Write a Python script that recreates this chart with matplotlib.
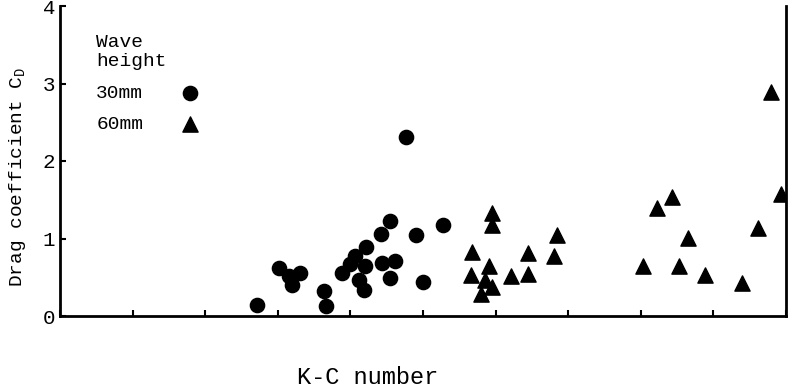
import matplotlib
matplotlib.use("Agg")
import matplotlib.pyplot as plt

plt.rcParams["font.family"] = ["Liberation Mono", "DejaVu Sans Mono"]

# Wave height 30 mm (circles)
kc_30 = [2.71, 3.02, 3.15, 3.31, 3.20, 3.64, 3.66, 3.88, 3.99, 4.07, 4.21, 4.20,
         4.12, 4.19, 4.42, 4.55, 4.44, 4.61, 4.55, 4.77, 4.90, 5.00, 5.28]
cd_30 = [0.14, 0.62, 0.52, 0.56, 0.40, 0.32, 0.13, 0.55, 0.67, 0.78, 0.89, 0.65,
         0.46, 0.33, 1.06, 1.23, 0.69, 0.71, 0.49, 2.31, 1.05, 0.44, 1.17]

# Wave height 60 mm (triangles)
kc_60 = [5.95, 5.95, 5.68, 5.66, 5.91, 5.86, 5.95, 5.80, 6.21, 6.44, 6.45, 6.84,
         6.80, 9.79, 8.43, 8.23, 8.65, 8.03, 8.52, 8.89, 9.40, 9.62, 9.93]
cd_60 = [1.33, 1.17, 0.82, 0.53, 0.65, 0.47, 0.37, 0.29, 0.52, 0.54, 0.81, 1.05,
         0.77, 2.89, 1.54, 1.40, 1.01, 0.64, 0.65, 0.53, 0.42, 1.14, 1.58]

x_ticks = list(range(0, 11))
y_ticks = [0, 1, 2, 3, 4]
y_ticklabels = ["0", "1", "2", "3", "4"]

fig = plt.figure(figsize=(7.9, 3.92), dpi=100)
ax = fig.add_axes([60 / 790, 76 / 392, 726 / 790, 310 / 392])

ax.scatter(kc_30, cd_30, s=105, marker="o", color="black", label="30mm", zorder=3)
ax.scatter(kc_60, cd_60, s=120, marker="^", color="black", label="60mm", zorder=3)

ax.set_xlim(0, 10)
ax.set_ylim(0, 4)
ax.set_xticks(x_ticks)
ax.set_xticklabels([])
ax.set_yticks(y_ticks)
ax.set_yticklabels(y_ticklabels, fontsize=15)
ax.tick_params(direction="in", length=4, width=1.5, colors="black")

for side in ("left", "bottom", "right"):
    ax.spines[side].set_linewidth(2)
ax.spines["top"].set_visible(False)

ax.set_ylabel("Drag coefficient C$_{\\mathregular{D}}$", fontsize=14)
ax.yaxis.set_label_coords(-0.044, 0.45)
fig.text(368 / 790, 1 - 378 / 392, "K-C number", fontsize=17,
         ha="center", va="center")

leg = ax.legend(title="Wave\nheight", loc="upper left", bbox_to_anchor=(0.05, 0.91),
                frameon=False, markerfirst=False, fontsize=14, title_fontsize=14,
                handletextpad=1.4, labelspacing=0.7, borderaxespad=0,
                borderpad=0)
leg._legend_box.align = "left"

fig.savefig("out.png", dpi=100)
